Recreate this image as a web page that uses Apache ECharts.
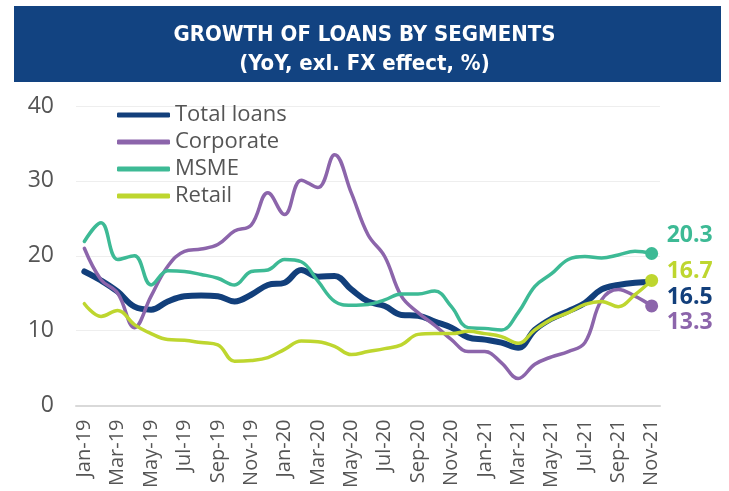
<!DOCTYPE html>
<html>
<head>
<meta charset="utf-8">
<script src="https://cdn.jsdelivr.net/npm/echarts@6/dist/echarts.min.js"></script>
<style>html,body{margin:0;padding:0;background:#fff}#c{width:729px;height:491px}</style>
</head>
<body>
<div id="c"></div>
<script>
const categories = ['Jan-19','Feb-19','Mar-19','Apr-19','May-19','Jun-19','Jul-19','Aug-19','Sep-19','Oct-19','Nov-19','Dec-19',
  'Jan-20','Feb-20','Mar-20','Apr-20','May-20','Jun-20','Jul-20','Aug-20','Sep-20','Oct-20','Nov-20','Dec-20',
  'Jan-21','Feb-21','Mar-21','Apr-21','May-21','Jun-21','Jul-21','Aug-21','Sep-21','Oct-21','Nov-21'];
const totalLoans = [17.9,16.7,15.2,13.2,12.8,13.9,14.6,14.7,14.6,13.9,14.8,16.1,16.4,18.1,17.2,17.3,15.5,13.9,13.3,12.1,12.0,11.2,10.4,9.1,8.8,8.4,7.7,10.1,11.6,12.6,13.7,15.5,16.1,16.4,16.5];
const corporate = [21.0,16.8,15.0,10.4,14.6,18.6,20.6,20.9,21.5,23.3,24.1,28.4,25.5,30.1,29.1,33.5,28.4,22.8,19.9,14.6,12.4,10.7,8.8,7.2,7.2,5.7,3.6,5.5,6.5,7.2,8.4,14.1,15.5,14.6,13.3];
const msme = [21.9,24.4,19.5,20.0,16.1,18.0,17.9,17.5,17.0,16.1,17.9,18.1,19.5,19.2,16.6,13.9,13.4,13.5,14.1,14.9,14.9,15.3,13.2,10.4,10.3,10.1,12.4,15.9,17.6,19.5,19.9,19.7,20.1,20.6,20.3];
const retail = [13.6,11.9,12.7,10.8,9.6,8.8,8.7,8.4,8.1,5.9,6.0,6.4,7.5,8.6,8.5,7.9,6.8,7.2,7.6,8.1,9.5,9.6,9.6,9.9,9.6,9.2,8.3,10.1,11.5,12.4,13.5,13.9,13.2,14.8,16.7];
const yTicks = [0,10,20,30,40];

const FONT = "'Open Sans', sans-serif";
const n = categories.length;
function mk(name, data, color, width, dotSize, dy) {
  return {
    name, type: 'line', data, smooth: 0.4,
    showSymbol: true, showAllSymbol: true, symbol: 'circle',
    symbolSize: (v, p) => (p.dataIndex === n - 1 ? dotSize : 0),
    itemStyle: { color },
    lineStyle: { color, width, cap: 'round', join: 'round' },
    emphasis: { disabled: true },
    animation: false,
    endLabel: {
      show: true, distance: 15, offset: [0, dy],
      formatter: p => p.value.toFixed(1),
      color, fontFamily: FONT, fontWeight: 'bold', fontSize: 23
    }
  };
}
const chart = echarts.init(document.getElementById('c'), null, { renderer: 'canvas' });
chart.setOption({
  backgroundColor: '#fff',
  graphic: [{ type: 'rect', shape: { x: 14, y: 6, width: 707, height: 76 }, style: { fill: '#124381' }, z: -1 }],
  title: {
    text: 'GROWTH OF LOANS BY SEGMENTS\n(YoY, exl. FX effect, %)',
    left: 'center', top: 16,
    textStyle: { color: '#fff', fontFamily: "'DejaVu Sans Condensed', 'Liberation Sans Narrow', sans-serif", fontWeight: 'bold', fontSize: 22, lineHeight: 29 }
  },
  legend: {
    orient: 'vertical', left: 112, top: 99, itemWidth: 53, itemHeight: 5, itemGap: 5,
    textStyle: { color: '#555', fontFamily: FONT, fontSize: 22 },
    data: [
      { name: 'Total loans', icon: 'roundRect' },
      { name: 'Corporate', icon: 'roundRect' },
      { name: 'MSME', icon: 'roundRect' },
      { name: 'Retail', icon: 'roundRect' }
    ],
    selectedMode: false
  },
  grid: { left: 76, right: 69, top: 106, bottom: 85.5 },
  xAxis: {
    type: 'category', data: categories, boundaryGap: true,
    axisLine: { lineStyle: { color: '#d9d9d9', width: 2 } },
    axisTick: { show: false },
    axisLabel: { interval: 1, rotate: 90, margin: 14, color: '#555', fontFamily: FONT, fontSize: 20 }
  },
  yAxis: {
    type: 'value', min: yTicks[0], max: yTicks[yTicks.length - 1], interval: 10,
    axisLine: { show: false }, axisTick: { show: false },
    splitLine: { lineStyle: { color: '#eeeeee', width: 1 } },
    axisLabel: { color: '#555', fontFamily: FONT, fontSize: 23, margin: 22 }
  },
  series: [
    mk('Total loans', totalLoans, '#123f7b', 6, 0, 15),
    mk('Corporate', corporate, '#8c65ab', 3.5, 13, 17),
    mk('MSME', msme, '#3dba95', 3.5, 13, -18),
    mk('Retail', retail, '#bed62f', 3.5, 13, -9)
  ]
});
</script>
</body>
</html>
